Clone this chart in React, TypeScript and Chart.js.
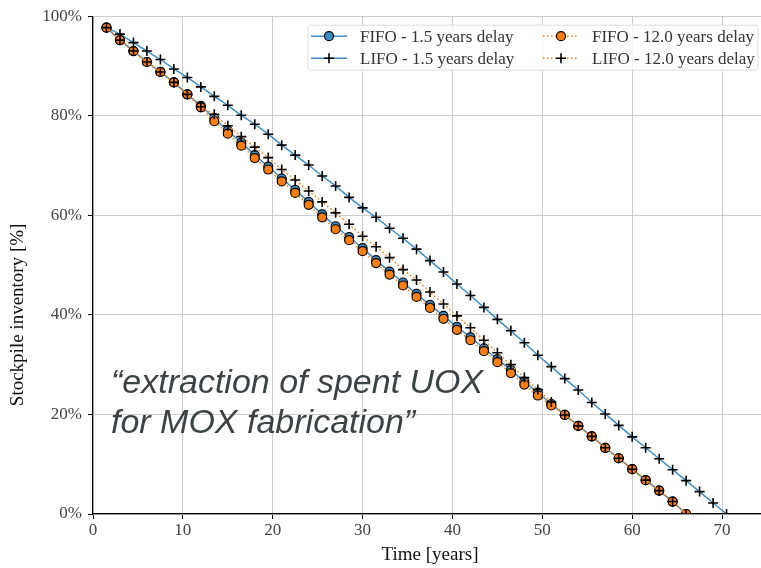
import React, { useEffect, useRef } from 'react';
import { Chart, registerables } from 'chart.js';

Chart.register(...registerables);

// ---- data ----
const TIME_FIFO = [1.5, 3, 4.5, 6, 7.5, 9, 10.5, 12, 13.5, 15, 16.5, 18, 19.5, 21, 22.5, 24, 25.5, 27, 28.5, 30, 31.5, 33, 34.5, 36, 37.5, 39, 40.5, 42, 43.5, 45, 46.5, 48, 49.5, 51, 52.5, 54, 55.5, 57, 58.5, 60, 61.5, 63, 64.5, 66];
const TIME_LIFO = [1.5, 3, 4.5, 6, 7.5, 9, 10.5, 12, 13.5, 15, 16.5, 18, 19.5, 21, 22.5, 24, 25.5, 27, 28.5, 30, 31.5, 33, 34.5, 36, 37.5, 39, 40.5, 42, 43.5, 45, 46.5, 48, 49.5, 51, 52.5, 54, 55.5, 57, 58.5, 60, 61.5, 63, 64.5, 66, 67.5, 69, 70.5];

const FIFO_1_5 = [97.7, 95.2, 93.0, 90.8, 88.8, 86.7, 84.3, 82.0, 79.5, 77.0, 74.6, 72.1, 69.8, 67.4, 65.1, 62.7, 60.2, 57.8, 55.6, 53.4, 51.0, 48.7, 46.5, 44.2, 42.0, 39.8, 37.6, 35.5, 33.3, 31.1, 28.9, 26.6, 24.4, 22.1, 19.9, 17.7, 15.6, 13.3, 11.2, 9.0, 6.8, 4.7, 2.5, 0.0];
const LIFO_1_5 = [97.7, 96.4, 94.7, 93.0, 91.3, 89.4, 87.7, 85.8, 83.9, 82.1, 80.1, 78.3, 76.3, 74.1, 72.1, 70.1, 67.9, 65.9, 63.6, 61.5, 59.6, 57.4, 55.4, 53.2, 50.9, 48.6, 46.2, 43.9, 41.5, 39.1, 36.8, 34.4, 31.9, 29.6, 27.2, 24.9, 22.4, 20.1, 17.8, 15.5, 13.3, 11.1, 8.9, 6.7, 4.5, 2.2, 0.0];
const FIFO_12 = [97.7, 95.2, 93.0, 90.8, 88.8, 86.7, 84.3, 81.7, 78.9, 76.4, 74.0, 71.5, 69.2, 66.8, 64.5, 62.1, 59.6, 57.2, 55.0, 52.8, 50.4, 48.1, 45.9, 43.6, 41.4, 39.2, 37.0, 34.9, 32.7, 30.5, 28.3, 26.0, 23.8, 21.8, 19.9, 17.7, 15.6, 13.3, 11.2, 9.0, 6.8, 4.7, 2.5, 0.0];
const LIFO_12 = [97.7, 95.2, 93.0, 90.8, 88.8, 86.7, 84.3, 81.8, 80.3, 78.0, 75.8, 73.7, 71.6, 69.2, 67.1, 64.9, 62.7, 60.5, 58.2, 55.8, 53.7, 51.5, 49.1, 47.0, 44.6, 42.2, 39.8, 37.4, 34.9, 32.4, 30.0, 27.4, 25.0, 22.5, 19.9, 17.7, 15.6, 13.3, 11.2, 9.0, 6.8, 4.7, 2.5, 0.0];

const X_TICKS = [0, 10, 20, 30, 40, 50, 60, 70];
const Y_TICKS = [0, 20, 40, 60, 80, 100];
const SERIES_LABELS = ['FIFO - 1.5 years delay', 'LIFO - 1.5 years delay', 'FIFO - 12.0 years delay', 'LIFO - 12.0 years delay'];
const X_TITLE = 'Time [years]';
const Y_TITLE = 'Stockpile inventory [%]';
const NOTE_LINES = ['\u201Cextraction of spent UOX', 'for MOX fabrication\u201D'];

// ---- style ----
const BLUE = '#3f8fc4';
const ORANGE = '#ff7f0e';
const SERIF = '"Liberation Serif", "Times New Roman", serif';
const SANS = '"Liberation Sans", Arial, sans-serif';

function toXY(xs: number[], ys: number[]) {
  return ys.map((y, i) => ({ x: xs[i], y }));
}

function drawMarker(ctx: CanvasRenderingContext2D, kind: string, x: number, y: number, fill: string) {
  ctx.save();
  if (kind === 'circle') {
    ctx.beginPath();
    ctx.arc(x, y, 4.5, 0, Math.PI * 2);
    ctx.fillStyle = fill;
    ctx.fill();
    ctx.lineWidth = 1.2;
    ctx.strokeStyle = '#000';
    ctx.stroke();
  } else {
    ctx.beginPath();
    ctx.moveTo(x - 5, y);
    ctx.lineTo(x + 5, y);
    ctx.moveTo(x, y - 5);
    ctx.lineTo(x, y + 5);
    ctx.lineWidth = 1.6;
    ctx.strokeStyle = '#000';
    ctx.stroke();
  }
  ctx.restore();
}

const decorPlugin = {
  id: 'decor',
  beforeDatasetsDraw(chart: any) {
    const ctx = chart.ctx as CanvasRenderingContext2D;
    const xs = chart.scales.x;
    const ys = chart.scales.y;
    ctx.save();
    ctx.font = 'italic 34px ' + SANS;
    ctx.fillStyle = '#3c4346';
    ctx.textBaseline = 'alphabetic';
    ctx.textAlign = 'left';
    const nx = xs.getPixelForValue(2.0);
    ctx.fillText(NOTE_LINES[0], nx, ys.getPixelForValue(24.3));
    ctx.fillText(NOTE_LINES[1], nx, ys.getPixelForValue(16.3));
    ctx.restore();
  },
  afterDraw(chart: any) {
    const ctx = chart.ctx as CanvasRenderingContext2D;
    const a = chart.chartArea;
    // axis titles
    ctx.save();
    ctx.fillStyle = '#111';
    ctx.font = '19px ' + SERIF;
    ctx.textAlign = 'center';
    ctx.textBaseline = 'middle';
    ctx.fillText(X_TITLE, (a.left + a.right) / 2, 555);
    ctx.translate(18, chart.scales.y.getPixelForValue(40));
    ctx.rotate(-Math.PI / 2);
    ctx.fillText(Y_TITLE, 0, 0);
    ctx.restore();

    // legend
    const right = a.right - 9;
    const top = a.top + 9;
    const left = right - 450;
    const h = 45;
    ctx.save();
    ctx.beginPath();
    const r = 3;
    ctx.moveTo(left + r, top);
    ctx.lineTo(right - r, top);
    ctx.quadraticCurveTo(right, top, right, top + r);
    ctx.lineTo(right, top + h - r);
    ctx.quadraticCurveTo(right, top + h, right - r, top + h);
    ctx.lineTo(left + r, top + h);
    ctx.quadraticCurveTo(left, top + h, left, top + h - r);
    ctx.lineTo(left, top + r);
    ctx.quadraticCurveTo(left, top, left + r, top);
    ctx.closePath();
    ctx.fillStyle = 'rgba(255,255,255,0.8)';
    ctx.fill();
    ctx.strokeStyle = '#dcdcdc';
    ctx.lineWidth = 1;
    ctx.stroke();

    const entries = [
      { label: SERIES_LABELS[0], col: 0, row: 0, color: BLUE, dash: [] as number[], marker: 'circle', fill: BLUE },
      { label: SERIES_LABELS[1], col: 0, row: 1, color: BLUE, dash: [] as number[], marker: 'cross', fill: '#000' },
      { label: SERIES_LABELS[2], col: 1, row: 0, color: ORANGE, dash: [1.5, 2.5], marker: 'circle', fill: ORANGE },
      { label: SERIES_LABELS[3], col: 1, row: 1, color: ORANGE, dash: [1.5, 2.5], marker: 'cross', fill: '#000' },
    ];
    ctx.font = '17px ' + SERIF;
    ctx.textBaseline = 'middle';
    ctx.textAlign = 'left';
    for (const e of entries) {
      const x0 = left + 3 + e.col * 232;
      const y0 = top + 11 + e.row * 22;
      ctx.save();
      ctx.beginPath();
      ctx.setLineDash(e.dash);
      ctx.strokeStyle = e.color;
      ctx.lineWidth = 1.5;
      ctx.moveTo(x0, y0);
      ctx.lineTo(x0 + 36, y0);
      ctx.stroke();
      ctx.restore();
      drawMarker(ctx, e.marker, x0 + 18, y0, e.fill);
      ctx.fillStyle = '#333';
      ctx.fillText(e.label, x0 + 49, y0 + 1);
    }
    ctx.restore();
  },
};

export default function App() {
  const canvasRef = useRef<HTMLCanvasElement | null>(null);

  useEffect(() => {
    document.body.style.margin = '0';
    document.body.style.overflow = 'hidden';
    document.documentElement.style.overflow = 'hidden';
    const canvas = canvasRef.current;
    if (!canvas) return;

    const chart = new Chart(canvas, {
      type: 'line',
      data: {
        datasets: [
          {
            label: SERIES_LABELS[0],
            data: toXY(TIME_FIFO, FIFO_1_5),
            borderColor: BLUE,
            borderWidth: 1.5,
            pointStyle: 'circle',
            pointRadius: 4.5,
            pointBackgroundColor: BLUE,
            pointBorderColor: '#000',
            pointBorderWidth: 1.2,
            order: 3,
          },
          {
            label: SERIES_LABELS[1],
            data: toXY(TIME_LIFO, LIFO_1_5),
            borderColor: BLUE,
            borderWidth: 1.5,
            pointStyle: 'cross',
            pointRadius: 5,
            pointBackgroundColor: '#000',
            pointBorderColor: '#000',
            pointBorderWidth: 1.6,
            order: 2,
          },
          {
            label: SERIES_LABELS[2],
            data: toXY(TIME_FIFO, FIFO_12),
            borderColor: ORANGE,
            borderWidth: 1.5,
            borderDash: [1.5, 2.5],
            pointStyle: 'circle',
            pointRadius: 4.5,
            pointBackgroundColor: ORANGE,
            pointBorderColor: '#000',
            pointBorderWidth: 1.2,
            order: 1,
          },
          {
            label: SERIES_LABELS[3],
            data: toXY(TIME_FIFO, LIFO_12),
            borderColor: ORANGE,
            borderWidth: 1.5,
            borderDash: [1.5, 2.5],
            pointStyle: 'cross',
            pointRadius: 5,
            pointBackgroundColor: '#000',
            pointBorderColor: '#000',
            pointBorderWidth: 1.6,
            order: 0,
          },
        ],
      },
      options: {
        animation: false,
        responsive: false,
        devicePixelRatio: 1,
        layout: { padding: { top: 16, right: 8, left: 0, bottom: 0 } },
        plugins: {
          legend: { display: false },
          tooltip: { enabled: false },
        },
        elements: { line: { tension: 0 } },
        scales: {
          x: {
            type: 'linear',
            min: 0,
            max: 75,
            afterBuildTicks: (s: any) => {
              s.ticks = X_TICKS.map((v) => ({ value: v }));
            },
            afterFit: (s: any) => {
              s.height = 54;
            },
            grid: { color: '#cdcdcd', lineWidth: 1, tickColor: '#000', tickLength: 5, drawTicks: true },
            border: { color: '#000', width: 1.2 },
            ticks: {
              color: '#444',
              font: { family: SERIF, size: 17 },
              padding: 1,
              maxRotation: 0,
              autoSkip: false,
            },
          },
          y: {
            type: 'linear',
            min: 0,
            max: 100,
            afterBuildTicks: (s: any) => {
              s.ticks = Y_TICKS.map((v) => ({ value: v }));
            },
            afterFit: (s: any) => {
              s.width = 93;
            },
            grid: { color: '#cdcdcd', lineWidth: 1, tickColor: '#000', tickLength: 5, drawTicks: true },
            border: { color: '#000', width: 1.2 },
            ticks: {
              color: '#444',
              font: { family: SERIF, size: 17 },
              padding: 6,
              autoSkip: false,
              callback: (v: any) => v + '%',
            },
          },
        },
      },
      plugins: [decorPlugin],
    });

    return () => {
      chart.destroy();
    };
  }, []);

  return (
    <div style={{ width: 775, height: 568, overflow: 'hidden' }}>
      <canvas ref={canvasRef} width={775} height={568} style={{ display: 'block' }} />
    </div>
  );
}
